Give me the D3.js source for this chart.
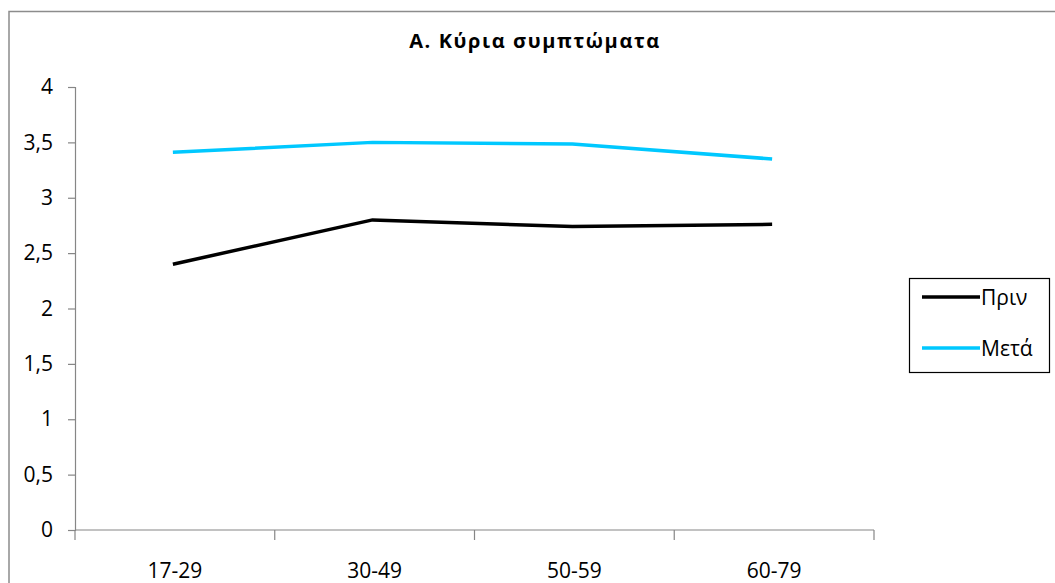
<!DOCTYPE html>
<html>
<head>
<meta charset="utf-8">
<script src="https://cdn.jsdelivr.net/npm/d3@7"></script>
<style>
  html, body { margin: 0; padding: 0; background: #fff; }
  svg { display: block; font-family: "Open Sans", "Noto Sans", sans-serif; }
</style>
</head>
<body>
<svg id="chart" width="1055" height="583"></svg>
<script>
// Age groups and mean scores for the main symptoms, before and after
const categories = ["17-29", "30-49", "50-59", "60-79"];
const beforeValues = [2.40, 2.80, 2.74, 2.76];
const afterValues = [3.41, 3.50, 3.485, 3.35];
const yTicks = [0, 0.5, 1, 1.5, 2, 2.5, 3, 3.5, 4];
const seriesNames = ["Πριν", "Μετά"];
const seriesColors = ["#000000", "#00c8ff"];
const title = "Α. Κύρια συμπτώματα";

const svg = d3.select("#chart");

// chart frame (open on the right and bottom)
svg.append("rect")
  .attr("x", 9).attr("y", 11.5)
  .attr("width", 1100).attr("height", 620)
  .attr("fill", "none").attr("stroke", "#8c8c8c").attr("stroke-width", 1.5);

const plot = { left: 75, right: 874, top: 87, bottom: 530 };

const x = d3.scaleBand().domain(categories).range([plot.left, plot.right]);
const y = d3.scaleLinear().domain([0, 4]).range([plot.bottom, plot.top]);

// title
svg.append("text")
  .attr("x", 535).attr("y", 48)
  .attr("text-anchor", "middle")
  .attr("font-size", 20).attr("font-weight", "bold")
  .attr("letter-spacing", 1.6)
  .text(title);

// y axis
const yAxis = svg.append("g")
  .attr("transform", `translate(${plot.left},0)`)
  .call(d3.axisLeft(y).tickValues(yTicks).tickSize(7).tickPadding(15)
    .tickFormat(d => String(d).replace(".", ",")));
yAxis.select(".domain").attr("stroke", "#868686").attr("stroke-width", 1.2);
yAxis.selectAll(".tick line").attr("stroke", "#868686").attr("stroke-width", 1.2);
yAxis.selectAll(".tick text").attr("font-size", 21).attr("fill", "#000")
  .attr("font-family", "Open Sans, sans-serif");

// x axis with ticks on the band edges
const xAxisG = svg.append("g").attr("transform", `translate(0,${plot.bottom})`);
xAxisG.append("line")
  .attr("x1", plot.left).attr("x2", plot.right)
  .attr("stroke", "#868686").attr("stroke-width", 1.2);
const edges = categories.map(c => x(c)).concat([x(categories[categories.length - 1]) + x.bandwidth()]);
xAxisG.selectAll("line.edge").data(edges).join("line")
  .attr("class", "edge")
  .attr("x1", d => d).attr("x2", d => d)
  .attr("y1", 0).attr("y2", 10)
  .attr("stroke", "#868686").attr("stroke-width", 1.2);
xAxisG.selectAll("text").data(categories).join("text")
  .attr("x", d => x(d) + x.bandwidth() / 2)
  .attr("y", 48)
  .attr("text-anchor", "middle")
  .attr("font-size", 21)
  .text(d => d);

// series lines
const line = d3.line()
  .x((d, i) => x(categories[i]) + x.bandwidth() / 2 - 2)
  .y(d => y(d));

[beforeValues, afterValues].forEach((vals, i) => {
  svg.append("path")
    .datum(vals)
    .attr("fill", "none")
    .attr("stroke", seriesColors[i])
    .attr("stroke-width", 3.5)
    .attr("stroke-linejoin", "round")
    .attr("d", line);
});

// legend
const legend = svg.append("g");
legend.append("rect")
  .attr("x", 909.5).attr("y", 278.5)
  .attr("width", 140).attr("height", 94)
  .attr("fill", "#fff").attr("stroke", "#000").attr("stroke-width", 1.2);
seriesNames.forEach((name, i) => {
  const ly = 297 + i * 51;
  legend.append("line")
    .attr("x1", 922).attr("x2", 980)
    .attr("y1", ly).attr("y2", ly)
    .attr("stroke", seriesColors[i]).attr("stroke-width", 3.5);
  legend.append("text")
    .attr("x", 981).attr("y", ly + 8)
    .attr("font-size", 21)
    .text(name);
});
</script>
</body>
</html>
